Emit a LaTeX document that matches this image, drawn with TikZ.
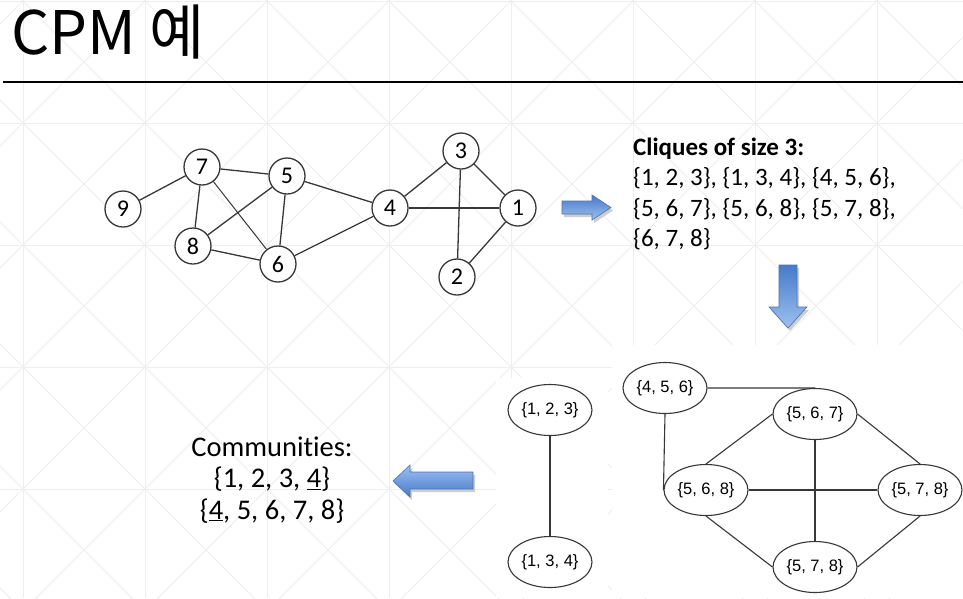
\documentclass[tikz,border=0pt]{standalone}
\usepackage{fontspec}
\setmainfont{Carlito}[Ligatures=CommonOff]
\newfontfamily\krfont{Noto Sans CJK KR}
\newfontfamily\arialfont{Liberation Sans}
\usetikzlibrary{positioning, shapes.geometric}
\definecolor{gridGray}{RGB}{238, 238, 238}
\definecolor{edgeGray}{RGB}{55, 55, 55}
\definecolor{arrowLight}{RGB}{158, 192, 240}
\definecolor{arrowDark}{RGB}{70, 122, 202}
\definecolor{arrowEdge}{RGB}{72, 114, 178}
\definecolor{shadowGray}{RGB}{205, 205, 205}
\tikzset{
  vertexNode/.style={
    draw=edgeGray,
    circle,
    line width=1.3pt,
    fill=white,
    minimum size=36pt,
    inner sep=0pt,
    font=\fontsize{24}{24}\selectfont
  },
  cliqueNode/.style={
    draw=edgeGray,
    ellipse,
    line width=1.1pt,
    fill=white,
    minimum width=84pt,
    minimum height=51pt,
    inner sep=0pt,
    font=\arialfont\fontsize{16.5}{16.5}\selectfont
  },
  graphEdge/.style={
    draw=edgeGray,
    line width=1.3pt
  },
  cliqueEdge/.style={
    draw=edgeGray,
    line width=1.1pt
  },
  gridLine/.style={
    draw=gridGray,
    line width=0.8pt
  },
  blockArrow/.style={
    draw=arrowEdge,
    line width=0.6pt
  },
  textBlock/.style={
    inner sep=0pt,
    font=\fontsize{25}{30.5}\selectfont
  }
}

\begin{document}
\begin{tikzpicture}[x=1pt, y=-1pt]
  \useasboundingbox (0,0) rectangle (963,598);
  % Background grid
  \begin{scope}
    \clip (0,0) rectangle (963,598);
    \foreach \gx in {23,145,...,877} \draw[gridLine] (\gx,0) -- (\gx,598);
    \foreach \gy in {1,123,...,489} \draw[gridLine] (0,\gy) -- (963,\gy);
    \foreach \gk in {-6,...,13} {
      \draw[gridLine] ({22+122*\gk},0) -- ({622+122*\gk},600);
      \draw[gridLine] ({24+122*\gk},0) -- ({-576+122*\gk},600);
    }
  \end{scope}
  % Pasted pictures cover the grid
  \fill[white] (612,345) rectangle (963,598);
  \fill[white] (496,378) rectangle (608,598);

  % Title
  \node[anchor=base west, inner sep=0pt, font=\krfont\fontsize{60}{60}\selectfont] (title) at (11,54) {CPM 예};
  \draw[line width=2pt] (3,82) -- (963,82);

  % Input graph
  \node[vertexNode] (n9) at (123,209) {9};
  \node[vertexNode] (n7) at (202,167) {7};
  \node[vertexNode] (n5) at (287,176) {5};
  \node[vertexNode] (n8) at (193,246) {8};
  \node[vertexNode] (n6) at (278,264) {6};
  \node[vertexNode] (n4) at (390,208) {4};
  \node[vertexNode] (n3) at (461,151) {3};
  \node[vertexNode] (n1) at (518,208) {1};
  \node[vertexNode] (n2) at (457,277) {2};
  \draw[graphEdge] (n9) -- (n7);
  \draw[graphEdge] (n7) -- (n5);
  \draw[graphEdge] (n7) -- (n8);
  \draw[graphEdge, line width=1pt] (n7) -- (n6);
  \draw[graphEdge] (n5) -- (n8);
  \draw[graphEdge] (n5) -- (n6);
  \draw[graphEdge] (n5) -- (n4);
  \draw[graphEdge] (n8) -- (n6);
  \draw[graphEdge] (n6) -- (n4);
  \draw[graphEdge] (n4) -- (n3);
  \draw[graphEdge] (n4) -- (n1);
  \draw[graphEdge] (n3) -- (n1);
  \draw[graphEdge] (n3) -- (n2);
  \draw[graphEdge] (n2) -- (n1);

  % Arrows
  \fill[shadowGray] (564,204) -- (594,204) -- (594,198) -- (613,210.5) -- (594,223) -- (594,217) -- (564,217) -- cycle;
  \shade[blockArrow, top color=arrowDark, bottom color=arrowLight] (562,201) -- (592,201) -- (592,195) -- (611,207.5) -- (592,220) -- (592,214) -- (562,214) -- cycle;
  \fill[shadowGray] (781,268) -- (799,268) -- (799,310) -- (809,310) -- (790,331) -- (771,310) -- (781,310) -- cycle;
  \shade[blockArrow, top color=arrowDark, bottom color=arrowLight] (779,265) -- (797,265) -- (797,307) -- (807,307) -- (788,328) -- (769,307) -- (779,307) -- cycle;
  \fill[shadowGray] (475,475) -- (412,475) -- (412,468) -- (395,484) -- (412,500) -- (412,492) -- (475,492) -- cycle;
  \shade[blockArrow, top color=arrowLight, bottom color=arrowDark] (473,472) -- (410,472) -- (410,465) -- (393,481) -- (410,497) -- (410,489) -- (473,489) -- cycle;

  % Clique list (base is the last line)
  \node[textBlock, anchor=base west, align=left] (cliques) at (633,246.5) {\textbf{Cliques of size 3:}\\\{1, 2, 3\}, \{1, 3, 4\}, \{4, 5, 6\},\\\{5, 6, 7\}, \{5, 6, 8\}, \{5, 7, 8\},\\\{6, 7, 8\}};

  % Communities
  \node[textBlock, anchor=base, align=center, font=\fontsize{28.5}{31.5}\selectfont] (comms) at (272,519) {Communities:\\\{1, 2, 3, \underline{4}\}\\\{\underline{4}, 5, 6, 7, 8\}};

  % Clique graph
  \node[cliqueNode] (c456) at (665,388) {\{4, 5, 6\}};
  \node[cliqueNode] (c567) at (815,414) {\{5, 6, 7\}};
  \node[cliqueNode] (c568) at (706,490) {\{5, 6, 8\}};
  \node[cliqueNode] (c578) at (920,490) {\{5, 7, 8\}};
  \node[cliqueNode] (c578b) at (815,567) {\{5, 7, 8\}};
  \node[cliqueNode] (c123) at (550,410) {\{1, 2, 3\}};
  \node[cliqueNode] (c134) at (550,562) {\{1, 3, 4\}};
  \draw[cliqueEdge] (c456.east) -- (c567.north);
  \draw[cliqueEdge] (c456.south) -- (c568.west);
  \draw[cliqueEdge] (c567.west) -- (c568.north);
  \draw[cliqueEdge] (c567.east) -- (c578.north);
  \draw[cliqueEdge] (c567.south) -- (c578b.north);
  \draw[cliqueEdge] (c568.east) -- (c578.west);
  \draw[cliqueEdge] (c568.south) -- (c578b.west);
  \draw[cliqueEdge] (c578.south) -- (c578b.east);
  \draw[cliqueEdge] (c123) -- (c134);
\end{tikzpicture}
\end{document}
